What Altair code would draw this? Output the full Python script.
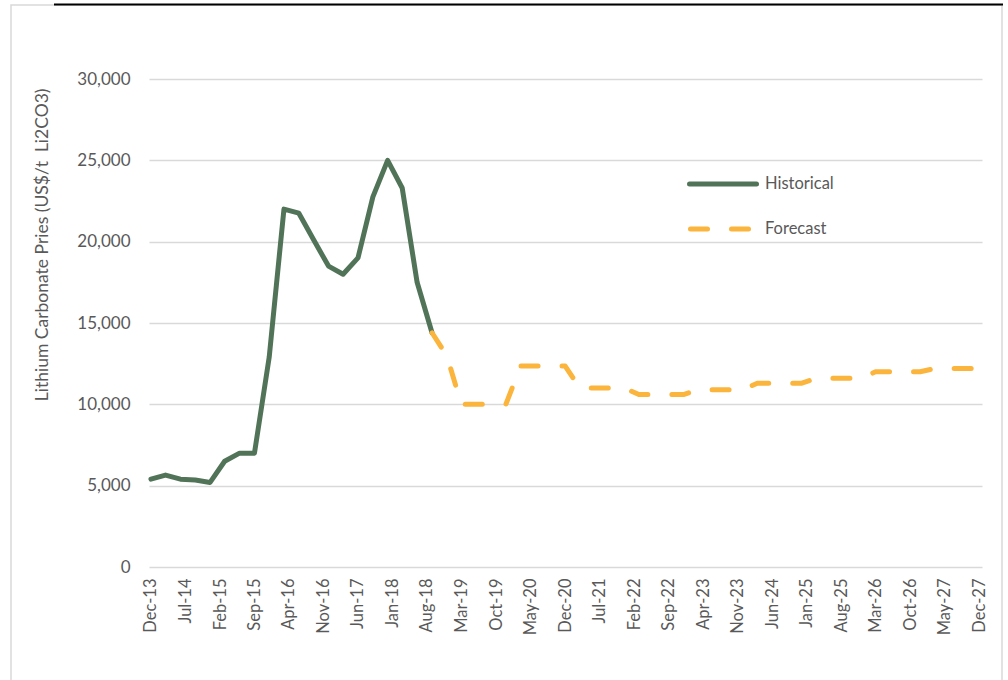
import altair as alt
import pandas as pd

# Quarterly lithium carbonate prices, US$/t Li2CO3
hist_start = "2013-12-01"
hist_values = [
    5400, 5650, 5400, 5350, 5200, 6500, 7000, 7000, 12900, 22000,
    21750, 20100, 18500, 18000, 19000, 22750, 25000, 23300, 17500, 14400,
]

fc_start = "2018-09-01"
fc_values = [
    14400, 13000,
    10000, 10000, 10000, 10000,
    12350, 12350, 12350, 12350,
    11000, 11000, 11000, 11000,
    10600, 10600, 10600, 10600,
    10900, 10900, 10900, 10900,
    11300, 11300, 11300, 11300,
    11600, 11600, 11600, 11600,
    12000, 12000, 12000, 12000,
    12200, 12200, 12200, 12200,
]

# Axis labels every seven months
tick_months = [
    (2013, 12), (2014, 7), (2015, 2), (2015, 9), (2016, 4), (2016, 11),
    (2017, 6), (2018, 1), (2018, 8), (2019, 3), (2019, 10), (2020, 5),
    (2020, 12), (2021, 7), (2022, 2), (2022, 9), (2023, 4), (2023, 11),
    (2024, 6), (2025, 1), (2025, 8), (2026, 3), (2026, 10), (2027, 5),
    (2027, 12),
]
y_ticks = [0, 5000, 10000, 15000, 20000, 25000, 30000]

series_names = ["Historical", "Forecast"]
GREEN = "#517458"
ORANGE = "#FBB43C"
GREY_TEXT = "#595959"
GRID = "#d9d9d9"
FONT = "Lato"

hist = pd.DataFrame({
    "date": pd.date_range(hist_start, periods=len(hist_values), freq="3MS"),
    "price": hist_values,
})
fc = pd.DataFrame({
    "date": pd.date_range(fc_start, periods=len(fc_values), freq="3MS"),
    "price": fc_values,
})

x_enc = alt.X(
    "date:T",
    scale=alt.Scale(
        domain=[
            alt.DateTime(year=2013, month=11, date=19),
            alt.DateTime(year=2027, month=12, date=18),
        ],
        nice=False,
    ),
    axis=alt.Axis(
        values=[alt.DateTime(year=y, month=m, date=1) for y, m in tick_months],
        format="%b-%y",
        labelAngle=270,
        labelPadding=11,
        labelFontSize=16.5,
        labelColor=GREY_TEXT,
        labelFont=FONT,
        grid=False,
        domain=False,
        ticks=False,
        title=None,
        labelOverlap=False,
    ),
)
y_enc = alt.Y(
    "price:Q",
    scale=alt.Scale(domain=[0, 30000], nice=False),
    axis=alt.Axis(
        values=y_ticks,
        format=",.0f",
        labelFontSize=17,
        labelColor=GREY_TEXT,
        labelFont=FONT,
        labelPadding=19,
        grid=True,
        gridColor=GRID,
        gridWidth=1.5,
        domain=False,
        ticks=False,
        title="Lithium Carbonate Pries (US$/t\u00a0 Li2CO3)",
        titleFont=FONT,
        titleFontSize=17.5,
        titleFontWeight="normal",
        titleColor=GREY_TEXT,
        titleAnchor="end",
        titleAngle=270,
        titleBaseline="middle",
        titleX=-107,
        titleY=9,
    ),
)

hist_line = alt.Chart(hist).mark_line(
    color=GREEN, strokeWidth=5, strokeCap="round", strokeJoin="round"
).encode(x=x_enc, y=y_enc)

fc_line = alt.Chart(fc).mark_line(
    color=ORANGE, strokeWidth=5, strokeCap="round", strokeJoin="round",
    strokeDash=[17, 24],
).encode(x=x_enc, y=y_enc)

one = alt.Data(values=[{}])

# Legend drawn inside the plot area
leg_hist = alt.Chart(one).mark_rule(
    color=GREEN, strokeWidth=5, strokeCap="round"
).encode(x=alt.value(540.5), x2=alt.value(607.5), y=alt.value(105))
leg_fc = alt.Chart(one).mark_rule(
    color=ORANGE, strokeWidth=5, strokeCap="round", strokeDash=[17, 24]
).encode(x=alt.value(541.5), x2=alt.value(600), y=alt.value(150))
leg_hist_txt = alt.Chart(one).mark_text(
    text=series_names[0], align="left", baseline="middle",
    font=FONT, fontSize=16.5, color=GREY_TEXT,
).encode(x=alt.value(616), y=alt.value(105))
leg_fc_txt = alt.Chart(one).mark_text(
    text=series_names[1], align="left", baseline="middle",
    font=FONT, fontSize=16.5, color=GREY_TEXT,
).encode(x=alt.value(616), y=alt.value(150))

# Outer frame and top rule of the figure
frame = alt.Chart(one).mark_rect(
    fill="transparent", stroke="#d9d9d9", strokeWidth=1.5
).encode(x=alt.value(-138), x2=alt.value(853), y=alt.value(-74), y2=alt.value(620))
top_rule = alt.Chart(one).mark_rule(
    color="#000000", strokeWidth=2
).encode(x=alt.value(-95), x2=alt.value(854), y=alt.value(-74.5))

chart = alt.layer(
    frame, top_rule, hist_line, fc_line, leg_hist, leg_fc, leg_hist_txt, leg_fc_txt
).properties(
    width=833,
    height=488,
    padding={"left": 149, "top": 79, "right": 26, "bottom": 113},
    autosize=alt.AutoSizeParams(type="none"),
    background="white",
).configure_view(strokeWidth=0)

chart.save("out.html", embed_options={"renderer": "svg", "actions": False})
